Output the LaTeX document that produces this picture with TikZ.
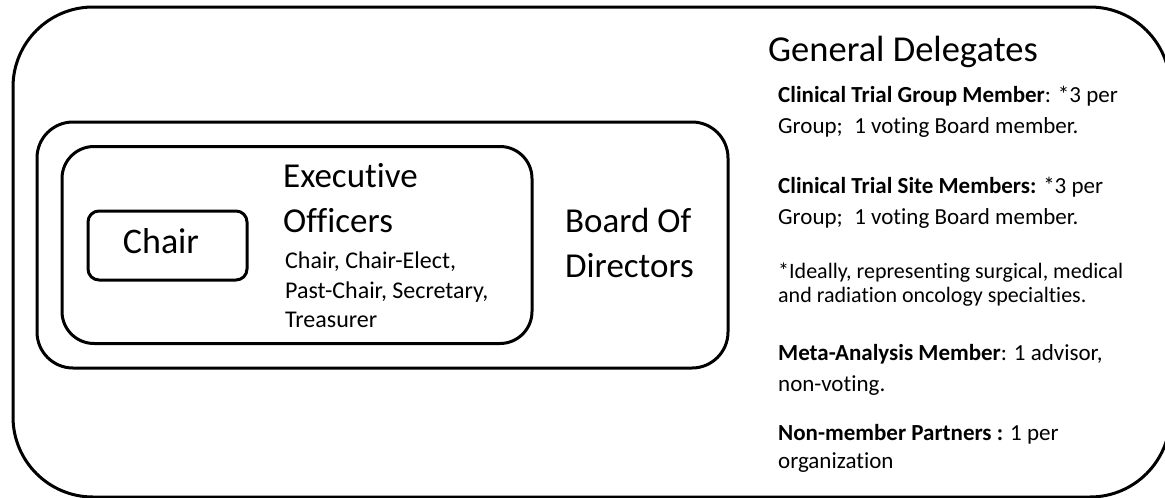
\documentclass[tikz,border=0pt]{standalone}
\usepackage{fontspec}
\setmainfont[Ligatures=NoCommon]{Carlito}
\usetikzlibrary{positioning}

\tikzset{
  frame/.style={draw, line width=3pt, rounded corners=#1, inner sep=0pt},
  frame/.default=10pt,
  txt/.style={anchor=base west, inner sep=0pt},
  big/.style={font=\fontsize{35}{42}\selectfont},
  small/.style={font=\fontsize{23}{30}\selectfont},
  tiny/.style={font=\fontsize{22}{24}\selectfont}
}

\begin{document}
\begin{tikzpicture}[x=1pt, y=-1pt]
  \useasboundingbox (0,0) rectangle (1165,498);
  \clip (0,0) rectangle (1165,498);

  % nested boxes
  \node[frame=80pt, minimum width=1157pt, minimum height=490pt] (delegates) at (591.5,252) {};
  \node[frame=36pt, minimum width=691pt, minimum height=246pt] (board) at (382.5,245) {};
  \node[frame=32pt, minimum width=470pt, minimum height=197pt] (exec) at (297,245) {};
  \node[frame=11pt, minimum width=159pt, minimum height=69pt] (chair) at (167.5,245.5) {};

  % box labels
  \node[txt, big, anchor=base, font=\fontsize{36}{42}\selectfont] (chairlbl) at (161,253) {Chair};
  \node[txt, big] (exec1) at (283,187) {Executive};
  \node[txt, big] (exec2) at (283,232) {Officers};
  \node[txt, font=\fontsize{24}{30}\selectfont] (officers1) at (285,268) {Chair, Chair-Elect,};
  \node[txt, font=\fontsize{24}{30}\selectfont] (officers2) at (285,298) {Past-Chair, Secretary,};
  \node[txt, font=\fontsize{24}{30}\selectfont] (officers3) at (285,327) {Treasurer};
  \node[txt, big] (board1) at (565,232) {Board Of};
  \node[txt, big] (board2) at (565,277) {Directors};

  % delegate list
  \node[txt, font=\fontsize{36.5}{42}\selectfont] (gdtitle) at (768,61) {General Delegates};
  \node[txt, small] (ctg1) at (778,102) {\textbf{Clinical Trial Group Member}: *3 per};
  \node[txt, small] (ctg2) at (778,133) {Group;\enspace 1 voting Board member.};
  \node[txt, small] (cts1) at (778,193) {\textbf{Clinical Trial Site Members:} *3 per};
  \node[txt, small] (cts2) at (778,224) {Group;\enspace 1 voting Board member.};
  \node[txt, tiny] (note1) at (778,278) {*Ideally, representing surgical, medical};
  \node[txt, tiny] (note2) at (778,302) {and radiation oncology specialties.};
  \node[txt, small] (meta1) at (778,360) {\textbf{Meta-Analysis Member}: 1 advisor,};
  \node[txt, small] (meta2) at (778,391) {non-voting.};
  \node[txt, small] (nmp1) at (778,440) {\textbf{Non-member Partners :} 1 per};
  \node[txt, small] (nmp2) at (778,468) {organization};
\end{tikzpicture}
\end{document}
